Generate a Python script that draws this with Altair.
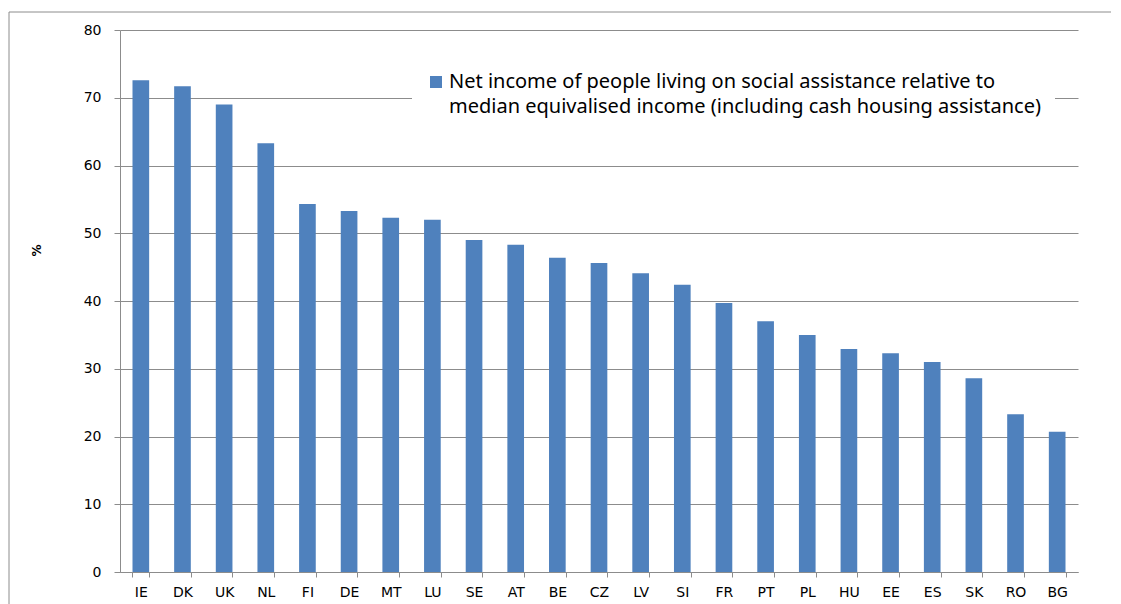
import altair as alt
import pandas as pd

countries = ["IE", "DK", "UK", "NL", "FI", "DE", "MT", "LU", "SE", "AT", "BE", "CZ",
             "LV", "SI", "FR", "PT", "PL", "HU", "EE", "ES", "SK", "RO", "BG"]
values = [72.6, 71.7, 69.0, 63.3, 54.3, 53.3, 52.3, 52.0, 49.0, 48.3, 46.4, 45.6,
          44.1, 42.4, 39.7, 37.0, 35.0, 32.9, 32.3, 31.0, 28.6, 23.3, 20.7]
series_name = ("Net income of people living on social assistance relative to\n"
               "median equivalised income (including cash housing assistance)")
y_ticks = [0, 10, 20, 30, 40, 50, 60, 70, 80]

df = pd.DataFrame({"country": countries, "value": values, "series": series_name})

GRAY = "#8c8c8c"
BLUE = "#4f81bd"

bars = alt.Chart(df).mark_bar(color=BLUE).encode(
    x=alt.X("country:N", sort=None,
            scale=alt.Scale(paddingInner=0.6, paddingOuter=0.3),
            axis=alt.Axis(title=None, tickBand="extent", labelAngle=0,
                          domainColor=GRAY, tickColor=GRAY, tickSize=5,
                          labelPadding=8, labelFont="DejaVu Sans", labelFontSize=14,
                          labelColor="#000000", grid=False)),
    y=alt.Y("value:Q", scale=alt.Scale(domain=[0, 80], nice=False),
            axis=alt.Axis(title="%", values=y_ticks, tickSize=6, tickColor=GRAY,
                          domainColor=GRAY, gridColor=GRAY, gridOpacity=1,
                          labelPadding=13, labelFont="DejaVu Sans", labelFontSize=14,
                          labelColor="#000000", titleAngle=270, titleX=-77, titleY=220,
                          titleFont="DejaVu Sans", titleFontSize=12, titleFontWeight="bold",
                          titleColor="#000000")),
    color=alt.Color("series:N", scale=alt.Scale(range=[BLUE]),
                    legend=alt.Legend(title=None, orient="none", legendX=292, legendY=28,
                                      symbolType="square", symbolSize=144,
                                      symbolStrokeWidth=0, symbolFillColor=BLUE,
                                      labelExpr="split(datum.label, '\\n')",
                                      labelFont="Noto Sans", labelFontSize=20,
                                      labelColor="#000000", labelLimit=0,
                                      labelOffset=3, labelBaseline="middle",
                                      fillColor="#ffffff", padding=14)),
)

border = alt.Chart(pd.DataFrame({"a": [0]})).mark_rule(color=GRAY, strokeWidth=1).encode(
    x=alt.value(-111), y=alt.value(-18), y2=alt.value(620))
border_top = alt.Chart(pd.DataFrame({"a": [0]})).mark_rule(color=GRAY, strokeWidth=1).encode(
    x=alt.value(-111), x2=alt.value(1100), y=alt.value(-18))

chart = alt.layer(border, border_top, bars).properties(
    width=958, height=542,
    autosize=alt.AutoSizeParams(type="none"),
    padding={"left": 112, "top": 22, "right": 33, "bottom": 34},
).configure(style={"guide-label": {"lineHeight": 25}}
).configure_view(stroke=None).configure_axisY(domain=True)

chart.save("out.html", embed_options={"renderer": "svg", "actions": False})
